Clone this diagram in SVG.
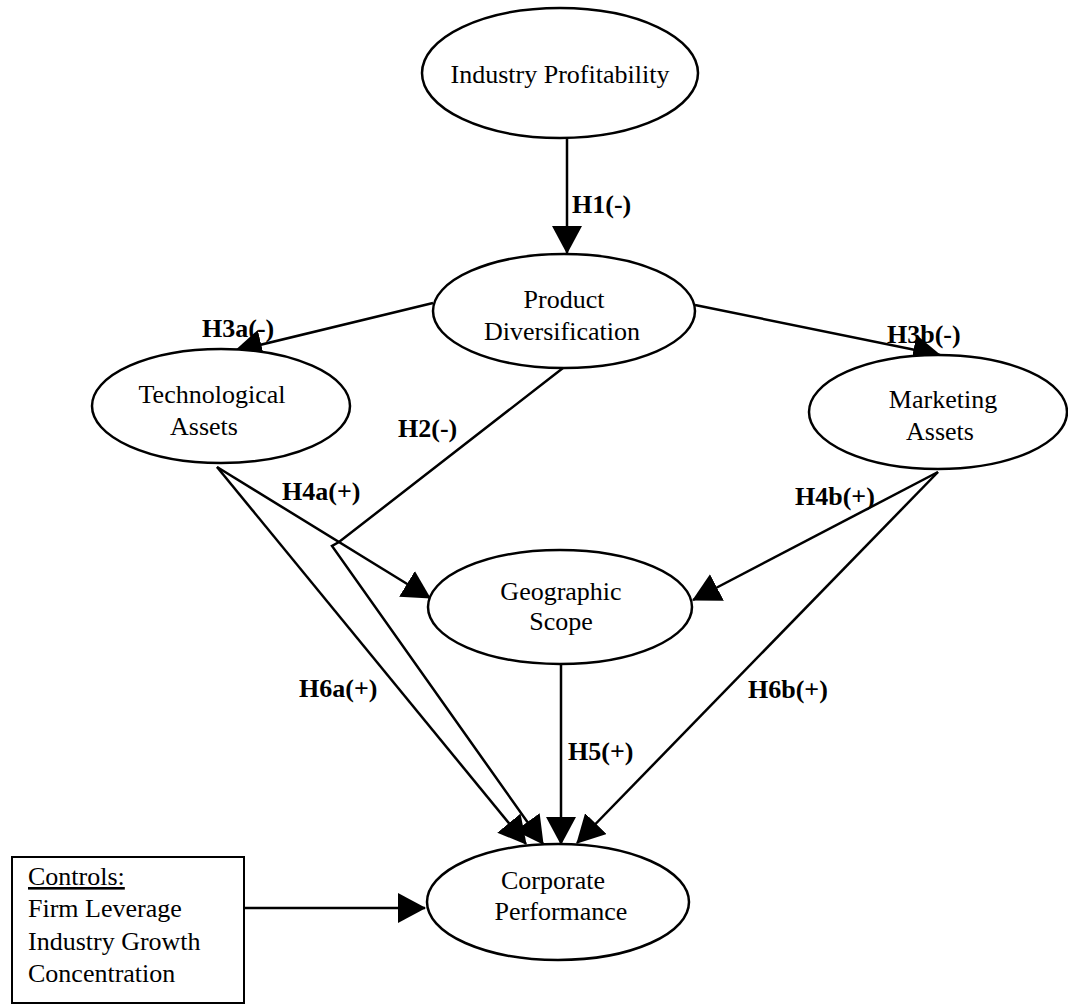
<svg xmlns="http://www.w3.org/2000/svg" width="1068" height="1006" viewBox="0 0 1068 1006">
<style>
.node ellipse{fill:#fff;stroke:#000;stroke-width:2.5}
.box{fill:#fff;stroke:#000;stroke-width:2}
.t{font-family:"Liberation Serif","Times New Roman",serif;font-size:26px;fill:#000;text-anchor:middle}
.tl{font-family:"Liberation Serif","Times New Roman",serif;font-size:26px;fill:#000}
.lbl{font-family:"Liberation Serif","Times New Roman",serif;font-size:26px;font-weight:bold;fill:#000}
.edges path{fill:none;stroke:#000;stroke-width:2.5}
</style>
<defs>
<marker id="ah" markerUnits="userSpaceOnUse" markerWidth="28" markerHeight="30" refX="27" refY="15" orient="auto" viewBox="0 0 28 30">
<path d="M0,0 L28,15 L0,30 z" fill="#000"/>
</marker>
</defs>
<rect width="1068" height="1006" fill="#fff"/>
<g class="edges">
<path id="e-h1" d="M567,138 L567,253" marker-end="url(#ah)"/>
<path id="e-h3a" d="M433,303 L235,351" marker-end="url(#ah)"/>
<path id="e-h3b" d="M695,305 L940,355" marker-end="url(#ah)"/>
<path id="e-h2" d="M563,368 L339,542 L332,546 L543,844" marker-end="url(#ah)"/>
<path id="e-h4a" d="M217,467 L430,598" marker-end="url(#ah)"/>
<path id="e-h6a" d="M217,467 L526,844" marker-end="url(#ah)"/>
<path id="e-h4b" d="M938,472 L693,600" marker-end="url(#ah)"/>
<path id="e-h6b" d="M938,472 L577,843" marker-end="url(#ah)"/>
<path id="e-h5" d="M561,665 L561,844" marker-end="url(#ah)"/>
<path id="e-ctrl" d="M244,908 L425,908" marker-end="url(#ah)"/>
</g>
<g id="industry-profitability" class="node">
<ellipse cx="560" cy="73" rx="138" ry="65"/>
<text class="t" x="560" y="83">Industry Profitability</text>
</g>
<g id="product-diversification" class="node">
<ellipse cx="564" cy="311" rx="131" ry="57"/>
<text class="t" x="564" y="308">Product</text>
<text class="t" x="562" y="340">Diversification</text>
</g>
<g id="technological-assets" class="node">
<ellipse cx="221" cy="406" rx="129" ry="57"/>
<text class="t" x="212" y="403">Technological</text>
<text class="t" x="204" y="435">Assets</text>
</g>
<g id="marketing-assets" class="node">
<ellipse cx="938" cy="412" rx="129" ry="57"/>
<text class="t" x="943" y="408">Marketing</text>
<text class="t" x="940" y="440">Assets</text>
</g>
<g id="geographic-scope" class="node">
<ellipse cx="560" cy="607" rx="132" ry="57"/>
<text class="t" x="561" y="600">Geographic</text>
<text class="t" x="561" y="630">Scope</text>
</g>
<g id="corporate-performance" class="node">
<ellipse cx="558" cy="902" rx="131" ry="58"/>
<text class="t" x="553" y="889">Corporate</text>
<text class="t" x="561" y="920">Performance</text>
</g>
<g id="controls">
<rect class="box" x="12" y="857" width="232" height="146"/>
<text class="tl" x="28" y="885" text-decoration="underline">Controls:</text>
<text class="tl" x="28" y="917">Firm Leverage</text>
<text class="tl" x="28" y="950">Industry Growth</text>
<text class="tl" x="28" y="982">Concentration</text>
</g>
<g id="labels">
<text class="lbl" x="572" y="213">H1(-)</text>
<text class="lbl" x="202" y="337">H3a(-)</text>
<text class="lbl" x="887" y="343">H3b(-)</text>
<text class="lbl" x="398" y="437">H2(-)</text>
<text class="lbl" x="282" y="500">H4a(+)</text>
<text class="lbl" x="795" y="505">H4b(+)</text>
<text class="lbl" x="299" y="697">H6a(+)</text>
<text class="lbl" x="748" y="698">H6b(+)</text>
<text class="lbl" x="568" y="760">H5(+)</text>
</g>
</svg>
